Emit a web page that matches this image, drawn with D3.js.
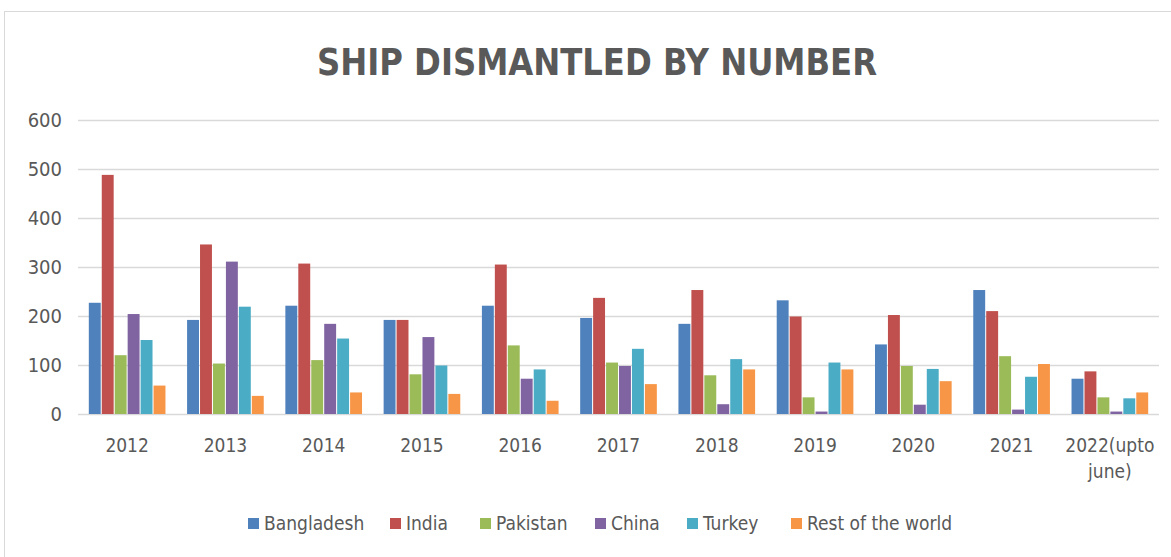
<!DOCTYPE html>
<html lang="en">
<head>
<meta charset="UTF-8">
<script src="https://cdn.jsdelivr.net/npm/d3@7"></script>
<style>
  body { margin: 0; background: #fff; }
  text { font-family: "DejaVu Sans Condensed", "Open Sans", sans-serif; fill: #595959; }
</style>
</head>
<body>
<div id="chart"></div>
<script>
// data
var years = ["2012", "2013", "2014", "2015", "2016", "2017", "2018", "2019", "2020", "2021", "2022(upto june)"];
var series = ["Bangladesh", "India", "Pakistan", "China", "Turkey", "Rest of the world"];
var bangladesh = [227, 192, 221, 192, 221, 196, 184, 232, 142, 253, 72];
var india      = [488, 346, 307, 192, 305, 237, 253, 199, 202, 210, 87];
var pakistan   = [120, 103, 110, 81, 140, 105, 79, 34, 98, 118, 34];
var china      = [204, 311, 184, 157, 72, 98, 20, 5, 19, 9, 5];
var turkey     = [151, 219, 154, 99, 91, 133, 112, 105, 92, 76, 32];
var restWorld  = [58, 37, 44, 41, 27, 61, 91, 91, 67, 102, 44];
var yTicks = [0, 100, 200, 300, 400, 500, 600];
var colors = ["#4F81BD", "#C0504D", "#9BBB59", "#8064A2", "#4BACC6", "#F79646"];

var values = [bangladesh, india, pakistan, china, turkey, restWorld];

var width = 1171, height = 557;
var plotLeft = 78, plotRight = 1159, plotTop = 120, plotBottom = 414;

var svg = d3.select("#chart").append("svg")
    .attr("width", width)
    .attr("height", height);

// chart frame
svg.append("rect")
    .attr("x", 4.5).attr("y", 11.5)
    .attr("width", 1300).attr("height", 600)
    .attr("fill", "#fff")
    .attr("stroke", "#d9d9d9");

// title
svg.append("text")
    .attr("x", 597).attr("y", 75)
    .attr("text-anchor", "middle")
    .attr("font-size", "38px")
    .attr("font-weight", "bold")
    .attr("textLength", 560)
    .attr("lengthAdjust", "spacingAndGlyphs")
    .text("SHIP DISMANTLED BY NUMBER");

var y = d3.scaleLinear().domain([0, 600]).range([plotBottom, plotTop]);
var x0 = d3.scaleBand().domain(years).range([plotLeft, plotRight]).paddingInner(0.22).paddingOuter(0.11);
var x1 = d3.scaleBand().domain(d3.range(series.length)).range([0, x0.bandwidth()]).paddingInner(0.08);

// gridlines
svg.append("g").selectAll("line")
    .data(yTicks)
    .enter().append("line")
    .attr("x1", plotLeft).attr("x2", plotRight)
    .attr("y1", function (d) { return y(d) + 0.5; })
    .attr("y2", function (d) { return y(d) + 0.5; })
    .attr("stroke", "#d9d9d9")
    .attr("stroke-width", 1.5);

// y labels
svg.append("g").selectAll("text")
    .data(yTicks)
    .enter().append("text")
    .attr("x", 62)
    .attr("y", function (d) { return y(d) + 7; })
    .attr("text-anchor", "end")
    .attr("font-size", "20px")
    .text(function (d) { return d; });

// bars
var groups = svg.append("g").selectAll("g")
    .data(years)
    .enter().append("g")
    .attr("transform", function (d) { return "translate(" + x0(d) + ",0)"; });

groups.selectAll("rect")
    .data(function (d, i) {
        return series.map(function (s, j) { return { s: j, v: values[j][i] }; });
    })
    .enter().append("rect")
    .attr("x", function (d) { return x1(d.s); })
    .attr("width", x1.bandwidth())
    .attr("y", function (d) { return y(d.v); })
    .attr("height", function (d) { return y(0) - y(d.v); })
    .attr("fill", function (d) { return colors[d.s]; });

// x labels
var xl = svg.append("g").selectAll("text")
    .data(years)
    .enter().append("text")
    .attr("x", function (d) { return x0(d) + x0.bandwidth() / 2; })
    .attr("y", 452)
    .attr("text-anchor", "middle")
    .attr("font-size", "19px");

xl.each(function (d) {
    var parts = d.indexOf("(") > 0 ? ["2022(upto", "june)"] : [d];
    var t = d3.select(this);
    parts.forEach(function (p, i) {
        t.append("tspan")
            .attr("x", x0(d) + x0.bandwidth() / 2)
            .attr("dy", i === 0 ? 0 : 26)
            .text(p);
    });
});

// legend
var legendX = [248, 390, 480, 595, 687, 791];
var legend = svg.append("g").selectAll("g")
    .data(series)
    .enter().append("g")
    .attr("transform", function (d, i) { return "translate(" + legendX[i] + ",518)"; });

legend.append("rect")
    .attr("width", 11).attr("height", 11)
    .attr("fill", function (d, i) { return colors[i]; });

legend.append("text")
    .attr("x", 16).attr("y", 12)
    .attr("font-size", "19px")
    .text(function (d) { return d; });
</script>
</body>
</html>
